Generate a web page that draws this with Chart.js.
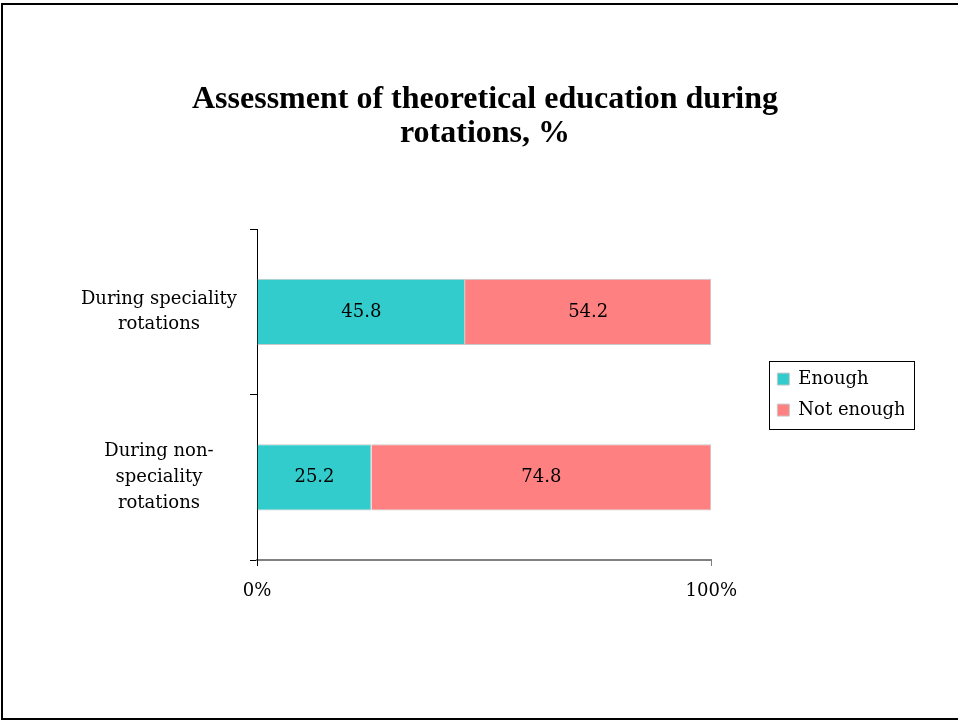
<!DOCTYPE html>
<html>
<head>
<meta charset="utf-8">
<script src="https://cdn.jsdelivr.net/npm/chart.js@4"></script>
<style>
  html, body { margin: 0; padding: 0; background: #fff; }
  #wrap { width: 958px; height: 721px; }
</style>
</head>
<body>
<div id="wrap"><canvas id="myChart" width="958" height="721"></canvas></div>
<script>
let categories = [['During speciality', 'rotations'], ['During non-', 'speciality', 'rotations']];
let enoughValues = [45.8, 25.2];
let notEnoughValues = [54.2, 74.8];
let seriesNames = ['Enough', 'Not enough'];
let titleLines = ['Assessment of theoretical education during', 'rotations, %'];

const bodyFont = { family: '"DejaVu Serif", serif', size: 18 };

// outer frame like the slide border
const framePlugin = {
    id: 'frame',
    beforeDraw(chart) {
        const ctx = chart.ctx;
        ctx.save();
        ctx.fillStyle = '#fff';
        ctx.fillRect(0, 0, chart.width, chart.height);
        ctx.strokeStyle = '#000';
        ctx.lineWidth = 2;
        ctx.strokeRect(2, 4, chart.width + 10, 715);
        ctx.restore();
    }
};

// numbers inside each bar segment
const valueLabels = {
    id: 'valueLabels',
    afterDatasetsDraw(chart) {
        const ctx = chart.ctx;
        ctx.save();
        ctx.font = bodyFont.size + 'px ' + bodyFont.family;
        ctx.fillStyle = '#000';
        ctx.textAlign = 'center';
        ctx.textBaseline = 'middle';
        chart.data.datasets.forEach((ds, i) => {
            chart.getDatasetMeta(i).data.forEach((bar, j) => {
                const p = bar.getCenterPoint();
                ctx.fillText(ds.data[j].toFixed(1), p.x, p.y);
            });
        });
        ctx.restore();
    }
};

// box around the legend items
const legendBox = {
    id: 'legendBox',
    afterDraw(chart) {
        const boxes = chart.legend && chart.legend.legendHitBoxes;
        if (!boxes || !boxes.length) return;
        let l = Infinity, t = Infinity, r = -Infinity, b = -Infinity;
        boxes.forEach(h => {
            l = Math.min(l, h.left); t = Math.min(t, h.top);
            r = Math.max(r, h.left + h.width); b = Math.max(b, h.top + h.height);
        });
        const ctx = chart.ctx;
        ctx.save();
        ctx.strokeStyle = '#000';
        ctx.lineWidth = 1;
        ctx.strokeRect(Math.round(l - 8) + 0.5, Math.round(t - 9) + 0.5, Math.round(r - l + 17), Math.round(b - t + 19));
        ctx.restore();
    }
};

function renderChart() {
    const ctx = document.getElementById('myChart');

    new Chart(ctx, {
        type: 'bar',
        data: {
            labels: categories,
            datasets: [{
                label: seriesNames[0],
                data: enoughValues,
                backgroundColor: '#33CCCC',
                borderColor: '#C8C8C8',
                borderWidth: 1,
                barPercentage: 0.4,
                categoryPercentage: 1
            }, {
                label: seriesNames[1],
                data: notEnoughValues,
                backgroundColor: '#FF8080',
                borderColor: '#C8C8C8',
                borderWidth: 1,
                barPercentage: 0.4,
                categoryPercentage: 1
            }]
        },
        options: {
            indexAxis: 'y',
            responsive: false,
            animation: false,
            layout: { padding: { left: 66, right: 54, top: 0, bottom: 111 } },
            plugins: {
                title: {
                    display: true,
                    text: titleLines,
                    color: '#000',
                    font: { family: '"Liberation Serif", serif', size: 32, weight: 'bold', lineHeight: 1.05 },
                    padding: { top: 83, bottom: 79 }
                },
                legend: {
                    position: 'right',
                    fullSize: false,
                    labels: {
                        color: '#000',
                        font: bodyFont,
                        boxWidth: 12,
                        boxHeight: 12,
                        padding: 13
                    }
                },
                tooltip: { enabled: false }
            },
            scales: {
                x: {
                    stacked: true,
                    min: 0,
                    max: 100,
                    ticks: {
                        stepSize: 100,
                        color: '#000',
                        font: bodyFont,
                        padding: 15,
                        callback: v => v + '%'
                    },
                    grid: {
                        drawOnChartArea: false,
                        tickLength: 6,
                        color: c => c.index === 0 ? '#000' : '#808080'
                    },
                    border: { color: '#808080', width: 2 },
                    afterFit: s => { s.height = 50; }
                },
                y: {
                    stacked: true,
                    ticks: {
                        color: '#000',
                        font: { family: bodyFont.family, size: bodyFont.size, lineHeight: 1.42 },
                        crossAlign: 'center',
                        padding: 13
                    },
                    grid: {
                        drawOnChartArea: false,
                        tickLength: 7,
                        color: '#000'
                    },
                    border: { color: '#000', width: 1 },
                    afterFit: s => { s.width = 191; }
                },
                gap: {
                    axis: 'y',
                    type: 'linear',
                    position: 'right',
                    display: true,
                    ticks: { display: false },
                    grid: { display: false },
                    border: { display: false },
                    afterFit: s => { s.width = 53; }
                }
            }
        },
        plugins: [framePlugin, valueLabels, legendBox]
    });
}

renderChart();
</script>
</body>
</html>
